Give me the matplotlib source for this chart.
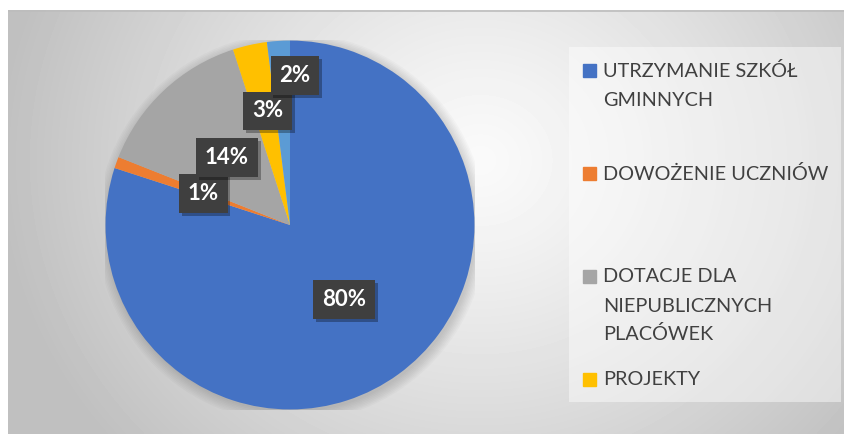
import textwrap
import numpy as np
import matplotlib.pyplot as plt
import matplotlib.patheffects as pe
from matplotlib.patches import Rectangle, Circle

# --- dane ---
categories = ['UTRZYMANIE SZKÓŁ GMINNYCH', 'DOWOŻENIE UCZNIÓW',
              'DOTACJE DLA NIEPUBLICZNYCH PLACÓWEK', 'PROJEKTY', 'INNE']
shares = [80, 1, 14, 3, 2]
colors = ['#4472C4', '#ED7D31', '#A5A5A5', '#FFC000', '#5B9BD5']
legend_count = 4  # legenda w oryginale ucięta, ostatniej pozycji nie widać

# gdzie Excel postawił etykiety: ułamek promienia + przesunięcie kąta
label_r = [0.5, 0.5, 0.5, 0.63, 0.81]
label_dth = [0, 0, 0, -1.5, -5.5]

W, H = 845, 434
plt.rcParams['font.family'] = ['Lato', 'DejaVu Sans']
fig = plt.figure(figsize=(W / 100, H / 100), dpi=100, facecolor='white')

# 1. tło z radialnym gradientem (współrzędne w pikselach)
bg = fig.add_axes([8 / W, 0, 1 - 8 / W, (H - 10) / H])
yy, xx = np.mgrid[10:H, 8:W]
d = np.hypot(xx - 480, (yy - 160) * 1.1)
shade = 250 - 58 * np.clip(d / 480, 0, 1) ** 1.2
bg.imshow(shade, cmap='gray', vmin=0, vmax=255, extent=(8, W, H, 10),
          aspect='auto', interpolation='bilinear')
bg.set_xlim(8, W)
bg.set_ylim(H, 10)
bg.axis('off')
bg.axhline(10.5, color='#bdbdbd', lw=1.2)

# 2. wykres kołowy
ax = fig.add_axes([105 / W, 24 / H, 370 / W, 370 / H])
for k in range(8):
    ax.add_patch(Circle((0.01, -0.015), 1 + 0.008 * k, fc='black', alpha=0.02,
                        lw=0, zorder=0.5))
wedges, _ = ax.pie(shares, colors=colors, startangle=90, counterclock=False,
                   radius=1, wedgeprops=dict(linewidth=0))
ax.set_xlim(-1.003, 1.003)
ax.set_ylim(-1.003, 1.003)

for w, v, r, dth in zip(wedges, shares, label_r, label_dth):
    th = np.radians((w.theta1 + w.theta2) / 2 + dth)
    t = ax.text(r * np.cos(th), r * np.sin(th), f'{v}%', ha='center', va='center',
                color='white', fontsize=16, fontweight='bold', zorder=4,
                bbox=dict(boxstyle='square,pad=0.4', fc='#3f3f3f', ec='none'))
    # cień pod ramką etykiety
    t.get_bbox_patch().set_path_effects(
        [pe.SimplePatchShadow(offset=(2, -2), shadow_rgbFace='black', alpha=0.3),
         pe.Normal()])

# 3. legenda (ręcznie, kwadrat przy pierwszej linii jak w Excelu)
bg.add_patch(Rectangle((569, 47), 272, 355, fc='white', alpha=0.45, ec='none'))
y0, step = 70.7, 102.8
for i in range(legend_count):
    yc = y0 + i * step
    bg.add_patch(Rectangle((583, yc - 6.5), 13, 13, color=colors[i]))
    for j, line in enumerate(textwrap.wrap(categories[i], 17)):
        bg.text(603, yc + j * 29 + 6.2, line, fontsize=14.3, color='#404040',
                va='baseline')

plt.savefig('out.png', dpi=100)
